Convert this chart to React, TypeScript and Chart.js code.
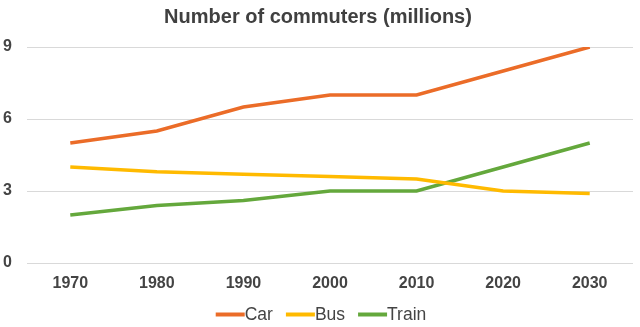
import React, { useEffect, useRef } from "react";
import { Chart, registerables } from "chart.js";

Chart.register(...registerables);

const years = ["1970", "1980", "1990", "2000", "2010", "2020", "2030"];
const car = [5, 5.5, 6.5, 7, 7, 8, 9];
const bus = [4, 3.8, 3.7, 3.6, 3.5, 3.0, 2.9];
const train = [2, 2.4, 2.6, 3, 3, 4, 5];
const yTicks = [0, 3, 6, 9];

const FONT = "'Liberation Sans', Arial, sans-serif";
const TEXT = "#444444";

const bottomLegend = {
  id: "bottomLegend",
  afterDraw(chart: any) {
    const ctx = chart.ctx;
    const items = chart.data.datasets;
    const lineW = 29;
    const gap = 13;
    ctx.save();
    ctx.font = `17.5px ${FONT}`;
    const widths = items.map((d: any) => lineW + ctx.measureText(d.label).width);
    const total = widths.reduce((a: number, b: number) => a + b, 0) + gap * (items.length - 1);
    let x = (chart.width - total) / 2 + 1;
    const y = chart.height - 12.5;
    items.forEach((d: any, i: number) => {
      ctx.strokeStyle = d.borderColor;
      ctx.lineWidth = 4;
      ctx.lineCap = "butt";
      ctx.beginPath();
      ctx.moveTo(x, y);
      ctx.lineTo(x + lineW, y);
      ctx.stroke();
      ctx.fillStyle = TEXT;
      ctx.textBaseline = "middle";
      ctx.textAlign = "left";
      ctx.fillText(d.label, x + lineW, y + 1);
      x += widths[i] + gap;
    });
    ctx.restore();
  },
};

export default function App() {
  const ref = useRef<HTMLCanvasElement | null>(null);
  useEffect(() => {
    document.body.style.margin = "0";
    const ctx = ref.current!;
    const chart = new Chart(ctx, {
      type: "line",
      data: {
        labels: years,
        datasets: [
          { label: "Car", data: car, borderColor: "#EB6C28", backgroundColor: "#EB6C28", borderWidth: 3.5, pointRadius: 0, tension: 0 },
          { label: "Bus", data: bus, borderColor: "#FFBA00", backgroundColor: "#FFBA00", borderWidth: 3.5, pointRadius: 0, tension: 0 },
          { label: "Train", data: train, borderColor: "#64A83C", backgroundColor: "#64A83C", borderWidth: 3.5, pointRadius: 0, tension: 0 },
        ],
      },
      options: {
        animation: false,
        responsive: false,
        maintainAspectRatio: false,
        layout: { padding: { left: 3, right: 7, top: 0, bottom: 35 } },
        plugins: {
          title: {
            display: true,
            text: "Number of commuters (millions)",
            color: "#404040",
            font: { family: FONT, size: 20, weight: "bold" },
            padding: { top: 5, bottom: 18 },
          },
          legend: { display: false },
          tooltip: { enabled: false },
        },
        scales: {
          x: {
            offset: true,
            grid: { display: false, drawTicks: false },
            border: { display: false },
            ticks: { color: TEXT, font: { family: FONT, size: 16, weight: "bold" }, padding: 11, maxRotation: 0 },
            afterFit: (axis: any) => {
              axis.height = 29;
            },
          },
          y: {
            min: 0,
            max: 9,
            afterBuildTicks: (axis: any) => {
              axis.ticks = yTicks.map((v) => ({ value: v }));
            },
            grid: { color: "#d9d9d9", lineWidth: 1, drawTicks: false },
            border: { display: false },
            ticks: { color: TEXT, font: { family: FONT, size: 16, weight: "bold" }, padding: 15 },
            afterFit: (axis: any) => {
              axis.width = 24;
            },
          },
        },
      },
      plugins: [bottomLegend],
    });
    return () => chart.destroy();
  }, []);
  return (
    <div style={{ width: 640, height: 327 }}>
      <canvas ref={ref} width={640} height={327} />
    </div>
  );
}
